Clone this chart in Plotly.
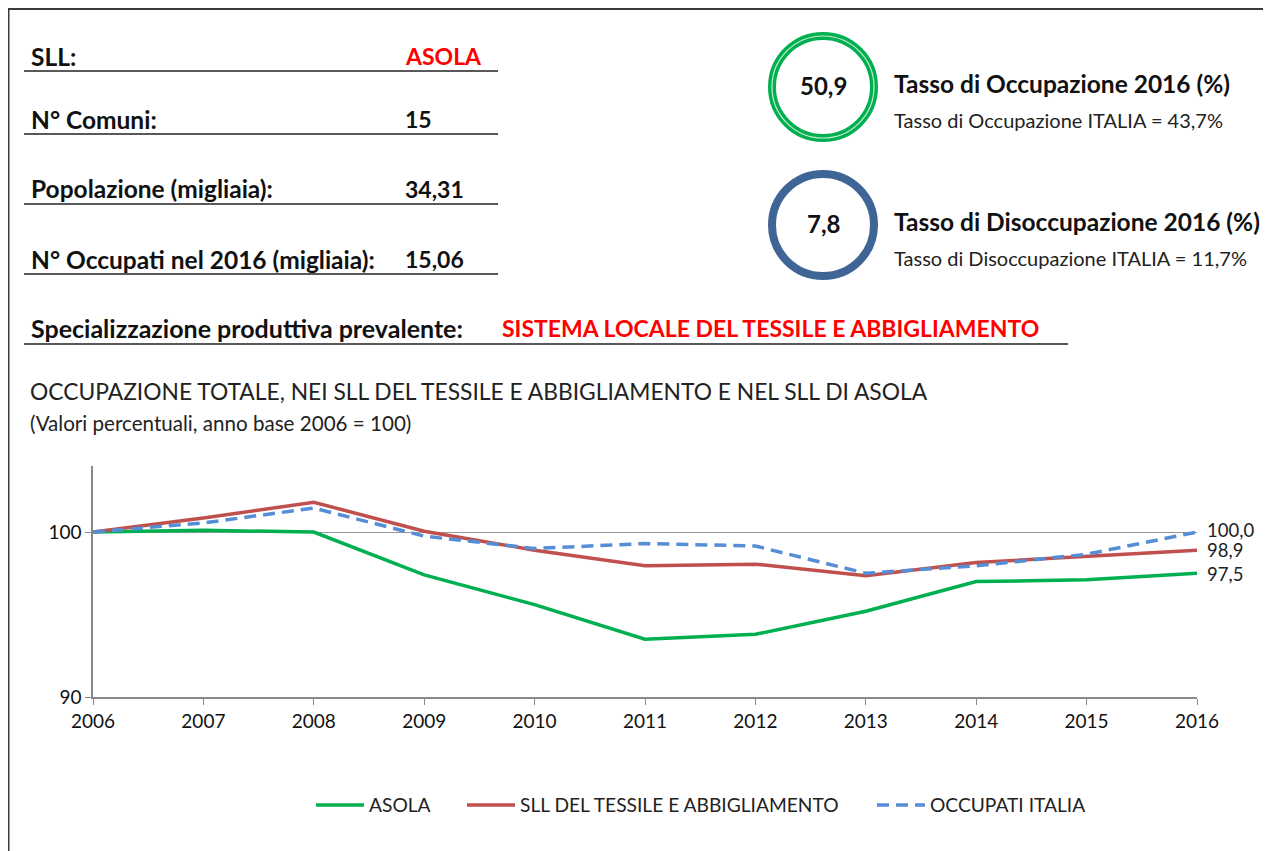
import plotly.graph_objects as go

# ---------------- data ----------------
years = [2006, 2007, 2008, 2009, 2010, 2011, 2012, 2013, 2014, 2015, 2016]
asola = [100.0, 100.1, 100.0, 97.4, 95.6, 93.5, 93.8, 95.2, 97.0, 97.1, 97.5]
sll_tessile = [100.0, 100.85, 101.8, 100.05, 98.9, 97.95, 98.05, 97.35, 98.15, 98.55, 98.9]
occupati_italia = [100.0, 100.55, 101.45, 99.75, 99.0, 99.3, 99.15, 97.5, 97.95, 98.65, 100.0]
series_names = ["ASOLA", "SLL DEL TESSILE E ABBIGLIAMENTO", "OCCUPATI ITALIA"]
end_labels = ["100,0", "98,9", "97,5"]
end_values = [100.0, 98.9, 97.5]
y_ticks = [90, 100]

info_labels = ["SLL:", "N° Comuni:", "Popolazione (migliaia):", "N° Occupati nel 2016 (migliaia):"]
info_values = ["ASOLA", "15", "34,31", "15,06"]
spec_label = "Specializzazione produttiva prevalente:"
spec_value = "SISTEMA LOCALE DEL TESSILE E ABBIGLIAMENTO"
rate_values = ["50,9", "7,8"]
rate_titles = ["Tasso di Occupazione 2016 (%)", "Tasso di Disoccupazione 2016 (%)"]
rate_notes = ["Tasso di Occupazione ITALIA = 43,7%", "Tasso di Disoccupazione ITALIA = 11,7%"]
chart_title = "OCCUPAZIONE TOTALE, NEI SLL DEL TESSILE E ABBIGLIAMENTO E NEL SLL DI ASOLA"
chart_subtitle = "(Valori percentuali, anno base 2006 = 100)"

# ---------------- layout helpers (screen pixel -> paper) ----------------
W, H = 1271, 851
OFF = 8  # page body margin
L, R, T, B = 93, 1197, 466, 697
PW, PH = R - L, B - T


def px(x):
    return (x - L) / PW


def py(y):
    return (B - y) / PH


FONT = "Lato, Liberation Sans, sans-serif"

GREEN = "#00b050"
RED = "#c0504d"
BLUE = "#558ed5"

fig = go.Figure()
colors = [GREEN, RED, BLUE]
dashes = ["solid", "solid", "12px,7px"]
legend_ids = ["legend", "legend2", "legend3"]
for name, vals, c, d, lg in zip(series_names, [asola, sll_tessile, occupati_italia], colors, dashes, legend_ids):
    fig.add_trace(go.Scatter(x=years, y=vals, mode="lines", name=name, legend=lg,
                             line=dict(color=c, width=3.5, dash=d)))

annotations = []
shapes = []

# end labels
end_shift = [2, 0, -1]
for lab, v, s in zip(end_labels, end_values, end_shift):
    annotations.append(dict(x=years[-1], y=v, xref="x", yref="y", text=lab, showarrow=False,
                            xanchor="left", xshift=8, yshift=s,
                            font=dict(family=FONT, size=18.5, color="#222")))

# frame
shapes.append(dict(type="line", xref="paper", yref="paper", x0=px(7.5), x1=px(W), y0=py(9), y1=py(9),
                   line=dict(color="#3a3a3a", width=2)))
shapes.append(dict(type="line", xref="paper", yref="paper", x0=px(8.5), x1=px(8.5), y0=py(8), y1=py(H),
                   line=dict(color="#3a3a3a", width=2)))

# info rows
row_y = [56, 119, 189, 259]
line_y = [71, 134, 204, 274]
for lab, val, yy, ly, i in zip(info_labels, info_values, row_y, line_y, range(4)):
    annotations.append(dict(x=px(29), y=py(yy), xref="paper", yref="paper", text="<b>%s</b>" % lab,
                            showarrow=False, xanchor="left", yanchor="middle",
                            font=dict(family=FONT, size=24.5, color="#111")))
    annotations.append(dict(x=px(403), y=py(yy), xref="paper", yref="paper", text="<b>%s</b>" % val,
                            showarrow=False, xanchor="left", yanchor="middle",
                            font=dict(family=FONT, size=23, color="#ff0000" if i == 0 else "#111")))
    shapes.append(dict(type="line", xref="paper", yref="paper", x0=px(24), x1=px(498), y0=py(ly), y1=py(ly),
                       line=dict(color="#222", width=1.5)))

annotations.append(dict(x=px(29), y=py(328), xref="paper", yref="paper", text="<b>%s</b>" % spec_label,
                        showarrow=False, xanchor="left", yanchor="middle",
                        font=dict(family=FONT, size=25, color="#111")))
annotations.append(dict(x=px(500), y=py(328), xref="paper", yref="paper", text="<b>%s</b>" % spec_value,
                        showarrow=False, xanchor="left", yanchor="middle",
                        font=dict(family=FONT, size=23, color="#ff0000")))
shapes.append(dict(type="line", xref="paper", yref="paper", x0=px(24), x1=px(1068), y0=py(344), y1=py(344),
                   line=dict(color="#222", width=1.5)))

# circles
circ_y = [87, 225]
circ_col = [GREEN, "#3f6496"]
for cy, col, val, ttl, note, i in zip(circ_y, circ_col, rate_values, rate_titles, rate_notes, range(2)):
    r = 51
    shapes.append(dict(type="circle", xref="paper", yref="paper", x0=px(823 - r), x1=px(823 + r),
                       y0=py(cy + r), y1=py(cy - r), line=dict(color=col, width=8)))
    if i == 0:
        shapes.append(dict(type="circle", xref="paper", yref="paper", x0=px(823 - r), x1=px(823 + r),
                           y0=py(cy + r), y1=py(cy - r), line=dict(color="#c8ecd2", width=1.2)))
    annotations.append(dict(x=px(823), y=py(cy - 2), xref="paper", yref="paper", text="<b>%s</b>" % val,
                            showarrow=False, xanchor="center", yanchor="middle",
                            font=dict(family=FONT, size=24, color="#111")))
    annotations.append(dict(x=px(892), y=py(cy - 3), xref="paper", yref="paper", text="<b>%s</b>" % ttl,
                            showarrow=False, xanchor="left", yanchor="middle",
                            font=dict(family=FONT, size=24.5, color="#111")))
    annotations.append(dict(x=px(892), y=py(cy + 33), xref="paper", yref="paper", text=note,
                            showarrow=False, xanchor="left", yanchor="middle",
                            font=dict(family=FONT, size=20, color="#222")))

# chart title
annotations.append(dict(x=px(28), y=py(391), xref="paper", yref="paper", text=chart_title,
                        showarrow=False, xanchor="left", yanchor="middle",
                        font=dict(family=FONT, size=22.8, color="#222")))
annotations.append(dict(x=px(28), y=py(423), xref="paper", yref="paper", text=chart_subtitle,
                        showarrow=False, xanchor="left", yanchor="middle",
                        font=dict(family=FONT, size=20.6, color="#222")))

leg_common = dict(orientation="h", xanchor="left", y=py(805), yanchor="middle",
                  font=dict(family=FONT, size=19.2, color="#222"), itemwidth=48,
                  bgcolor="rgba(0,0,0,0)")
leg_x = [311, 462, 872]

fig.update_layout(
    width=W - OFF, height=H - OFF,
    margin=dict(l=L - OFF, r=W - R, t=T - OFF, b=H - B, pad=0),
    paper_bgcolor="white", plot_bgcolor="white",
    font=dict(family=FONT, size=19, color="#111"),
    showlegend=True,
    legend=dict(x=px(leg_x[0]), **leg_common),
    legend2=dict(x=px(leg_x[1]), **leg_common),
    legend3=dict(x=px(leg_x[2]), **leg_common),
    xaxis=dict(range=[2006, 2016], tickvals=years, ticks="outside", ticklen=6, tickcolor="#888",
               showline=True, linecolor="#888", linewidth=1.5, showgrid=False, zeroline=False,
               tickfont=dict(family=FONT, size=19, color="#111")),
    yaxis=dict(range=[90, 104], tickvals=y_ticks, ticks="outside", ticklen=6, tickcolor="#888",
               showline=True, linecolor="#888", linewidth=1.5, showgrid=True, gridcolor="#999",
               gridwidth=1, zeroline=False, tickfont=dict(family=FONT, size=19, color="#111")),
    shapes=shapes, annotations=annotations,
)

fig.write_html("out.html")
